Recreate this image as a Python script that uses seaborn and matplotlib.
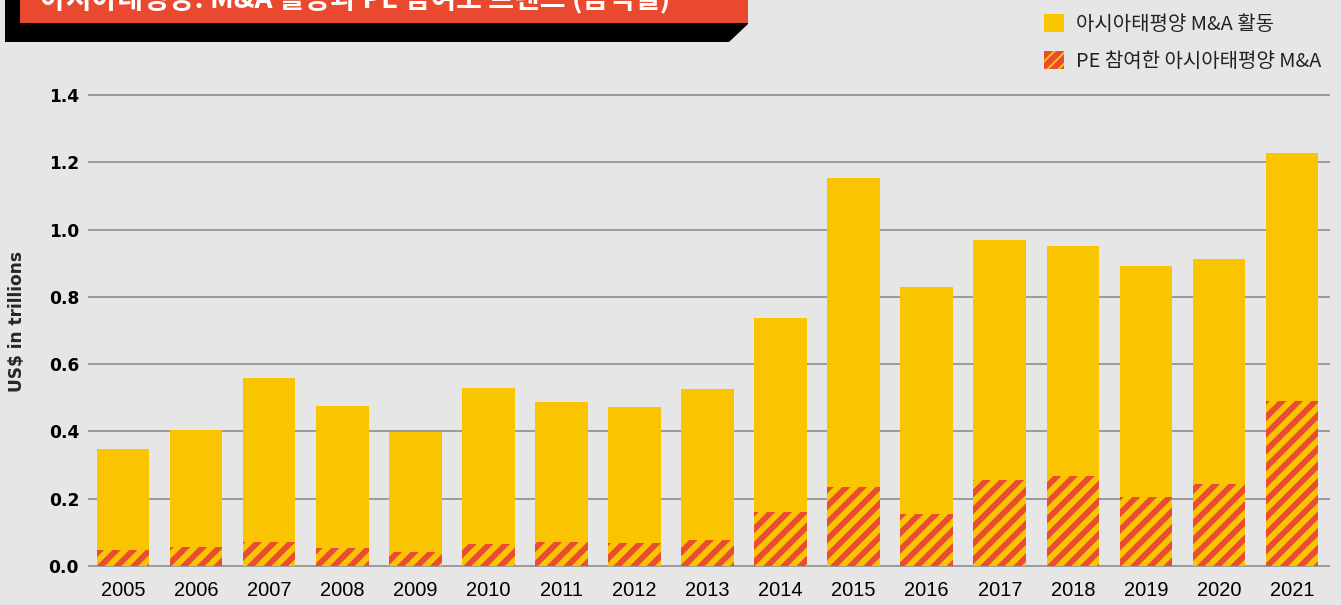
# Asia-Pacific M&A activity and PE participation, 2005-2021
import seaborn as sns
import numpy as np
import matplotlib.pyplot as plt
import pandas as pd
from matplotlib.patches import Patch, Polygon, Rectangle

years = [str(y) for y in range(2005, 2022)]
total_ma = [0.348, 0.404, 0.559, 0.476, 0.398, 0.529, 0.488, 0.473, 0.526,
            0.737, 1.153, 0.829, 0.969, 0.951, 0.892, 0.913, 1.228]
pe_ma = [0.048, 0.056, 0.071, 0.054, 0.042, 0.065, 0.071, 0.068, 0.077,
         0.160, 0.235, 0.155, 0.256, 0.268, 0.205, 0.244, 0.490]
y_ticks = [0.0, 0.2, 0.4, 0.6, 0.8, 1.0, 1.2, 1.4]

title_text = "아시아태평양: M&A 활동과 PE 참여도 트렌드 (금액별)"
legend_labels = ["아시아태평양 M&A 활동", "PE 참여한 아시아태평양 M&A"]
y_label = "US$ in trillions"

yellow = "#f9c400"
red = "#e94b33"
bg = "#e6e6e6"
grid_col = "#9c9c9c"

W, H, DPI = 1341, 605, 100


def pt(px):
    # pixel size -> points at this dpi
    return px * 72 / DPI


sns.set_style("whitegrid", {"axes.facecolor": bg, "grid.color": grid_col,
                            "axes.edgecolor": bg})
plt.rcParams['font.family'] = ['Noto Sans CJK KR', 'DejaVu Sans']
plt.rcParams['hatch.linewidth'] = 4.2

fig = plt.figure(figsize=(W / DPI, H / DPI), dpi=DPI)
fig.patch.set_facecolor(bg)

# axes placed in pixel terms: y=0 at 566px, 1.4 at 95px
ymin, ymax = -0.004, 1.42
px_per = (566 - 95) / 1.4
bot = 566 + (0 - ymin) * px_per
top = 566 - ymax * px_per
ax = fig.add_axes([88 / W, 1 - bot / H, (1330 - 88) / W, (bot - top) / H])
ax.set_facecolor(bg)

df = pd.DataFrame({'Year': years, 'Total': total_ma, 'PE': pe_ma})
sns.barplot(data=df, x='Year', y='Total', color=yellow, width=0.72,
            saturation=1, errorbar=None, ax=ax)
n = len(ax.patches)
sns.barplot(data=df, x='Year', y='PE', color=yellow, width=0.72,
            saturation=1, errorbar=None, ax=ax)
for p in ax.patches:
    p.set_linewidth(0)
for p in ax.patches[n:]:
    p.set_hatch('//')
    p.set_edgecolor(red)

ax.set_xlim(-0.48, 16.52)
ax.set_ylim(ymin, ymax)
ax.set_yticks(y_ticks)
ax.set_yticklabels([f"{v:.1f}" for v in y_ticks], family='DejaVu Sans',
                   fontweight='bold', fontsize=pt(17))
ax.set_xticks(range(len(years)))
ax.set_xticklabels(years, family='Liberation Sans', fontsize=pt(20))
ax.tick_params(axis='y', length=0, pad=pt(9), colors='black')
ax.tick_params(axis='x', length=0, pad=pt(14), colors='black')
ax.grid(axis='y', color=grid_col, linewidth=pt(2))
ax.grid(axis='x', visible=False)
ax.set_axisbelow(True)
ax.set_xlabel('')
ax.set_ylabel('')
for s in ax.spines.values():
    s.set_visible(False)

fig.text(17 / W, 1 - 322 / H, y_label, rotation=90, ha='center', va='center',
         fontsize=pt(17), fontweight='bold', family='DejaVu Sans')

# title banner, cut at the top edge like the source
shadow = Polygon([(5 / W, 1), (748 / W, 1), (748 / W, 1 - 24 / H),
                  (729 / W, 1 - 42 / H), (5 / W, 1 - 42 / H)],
                 closed=True, facecolor='black', edgecolor='none',
                 transform=fig.transFigure)
banner = Rectangle((20 / W, 1 - 23 / H), 728 / W, 23 / H, facecolor='#e9492f',
                   edgecolor='none', transform=fig.transFigure)
fig.patches.extend([shadow, banner])
fig.text(40 / W, 1 - 8 / H, title_text, color='white', fontsize=pt(28),
         fontweight='bold', ha='left', va='baseline')

handles = [Patch(facecolor=yellow, edgecolor='none'),
           Patch(facecolor=yellow, edgecolor=red, hatch='///', linewidth=0)]
leg = fig.legend(handles, legend_labels, loc='upper left',
                 bbox_to_anchor=(1036 / W, 1 - 6 / H), frameon=False,
                 fontsize=pt(20), handlelength=1.0, handleheight=1.0,
                 handletextpad=0.6, labelspacing=0.78, borderaxespad=0)
for t in leg.get_texts():
    t.set_color('#222222')

fig.savefig("out.png", dpi=DPI, facecolor=bg)
